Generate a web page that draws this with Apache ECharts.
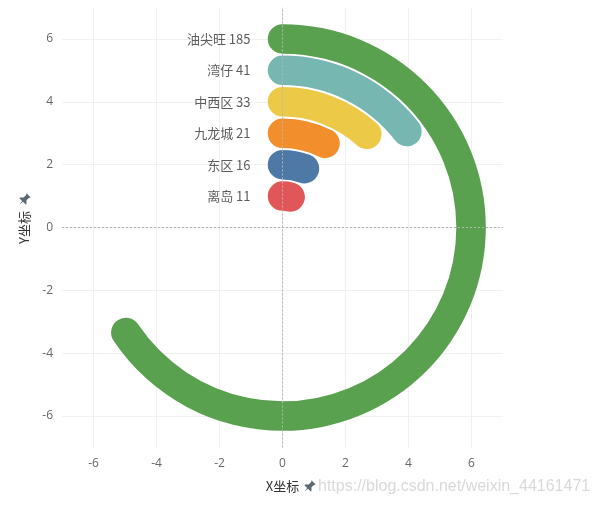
<!DOCTYPE html>
<html><head><meta charset="utf-8">
<script src="https://cdn.jsdelivr.net/npm/echarts@6/dist/echarts.min.js"></script>
<style>html,body{margin:0;padding:0;background:#fff}#c{width:594px;height:507px}</style>
</head><body><div id="c"></div>
<script>
// ---- data ----
const categories = ['油尖旺', '湾仔', '中西区', '九龙城', '东区', '离岛'];
const values = [185, 41, 33, 21, 16, 11];
const colors = ['#59a14f', '#76b7b2', '#edc948', '#f28e2b', '#4e79a7', '#e15759'];
const tickValues = [-6, -4, -2, 0, 2, 4, 6];
const axisMin = -7, axisMax = 7;
const angleMax = 282; // value that would make a full circle

// ---- layout ----
const G = { left: 62, top: 7.5, width: 441, height: 440 };
const unit = G.height / (axisMax - axisMin);
const cx = G.left + G.width / 2, cy = G.top + G.height / 2;

const ringCats = categories.slice().reverse();
const ringVals = values.slice().reverse();
const ringCols = colors.slice().reverse();

const pinPts = [[-3,-6.5],[3,-6.5],[2,-5],[2,-1.5],[4.5,1],[4.5,2],[0.6,2],[0,6.5],[-0.6,2],[-4.5,2],[-4.5,1],[-2,-1.5],[-2,-5]];
function pin(x, y) {
  return {
    type: 'group', x: x, y: y, rotation: -Math.PI / 4, z: 10,
    children: [{ type: 'polygon', shape: { points: pinPts }, style: { fill: '#5d6772' } }]
  };
}

const axisCommon = {
  type: 'value', min: axisMin, max: axisMax,
  axisLine: { show: true, lineStyle: { color: '#ebebeb', width: 1 } },
  axisTick: { show: false, customValues: tickValues },
  axisLabel: { customValues: tickValues, color: '#666', fontSize: 12, fontFamily: 'Open Sans, sans-serif' },
  splitLine: { show: true, lineStyle: { color: '#f0f0f0', width: 1 } },
  nameLocation: 'middle',
  nameTextStyle: { color: '#333', fontSize: 13, fontFamily: 'Noto Sans CJK SC' }
};

const chart = echarts.init(document.getElementById('c'));
chart.setOption({
  animation: false,
  backgroundColor: '#fff',
  grid: { left: G.left, top: G.top, width: G.width, height: G.height, containLabel: false },
  xAxis: Object.assign({}, axisCommon, { name: 'X坐标', nameGap: 32, axisLabel: Object.assign({}, axisCommon.axisLabel, { margin: 10 }) }),
  yAxis: Object.assign({}, axisCommon, { name: 'Y坐标', nameGap: 31, axisLabel: Object.assign({}, axisCommon.axisLabel, { margin: 9 }) }),
  polar: { center: [cx, cy], radius: [unit * 0.5, unit * (categories.length + 0.5)] },
  angleAxis: { type: 'value', min: 0, max: angleMax, startAngle: 90, clockwise: true, show: false },
  radiusAxis: { type: 'category', data: ringCats, show: false },
  series: [
    {
      type: 'bar', coordinateSystem: 'polar', roundCap: true, barWidth: 29.5, z: 3,
      data: ringVals.map((v, i) => ({ value: v, itemStyle: { color: ringCols[i] } }))
    },
    {
      type: 'scatter', symbolSize: 0, z: 1, silent: true,
      data: categories.map((c, i) => ({ name: c, value: [0, categories.length - i] })),
      label: {
        show: true, position: 'left', distance: 32, color: '#333', fontSize: 13,
        fontFamily: 'Noto Sans CJK SC',
        formatter: p => p.name + ' ' + values[p.dataIndex]
      },
      markLine: {
        silent: true, symbol: 'none', label: { show: false },
        lineStyle: { color: '#b5b5b5', type: [2, 2], width: 1 },
        data: [{ xAxis: 0 }, { yAxis: 0 }]
      }
    }
  ],
  graphic: [
    pin(309, 487),
    pin(24, 200),
    { type: 'text', left: 318, top: 479, z: 9, style: { text: 'https://blog.csdn.net/weixin_44161471', fill: '#d9d9d9', font: '16px "Liberation Sans", Arial, sans-serif' } }
  ]
});
</script></body></html>
